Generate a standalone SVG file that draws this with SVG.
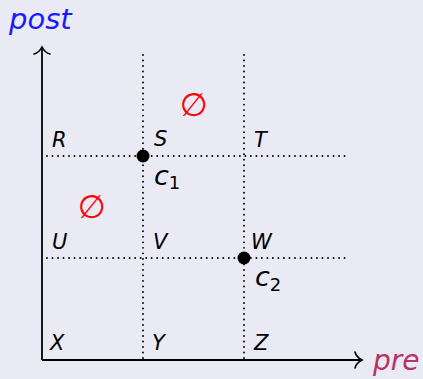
<svg xmlns="http://www.w3.org/2000/svg" width="423" height="379" viewBox="0 0 423 379">
<defs>
<marker id="to" viewBox="-10 -10 12 20" refX="0" refY="0" markerWidth="12" markerHeight="20" markerUnits="userSpaceOnUse" orient="auto">
<path d="M -7,-8 C -6,-4 -2,-1 0,0 C -2,1 -6,4 -7,8" fill="none" stroke="#000" stroke-width="1.6" stroke-linecap="round"/>
</marker>
<style>
.lbl{font-family:"DejaVu Sans",sans-serif;font-style:italic;font-size:21px;fill:#000}
.c{font-family:"DejaVu Sans",sans-serif;font-style:italic;font-size:27px;fill:#000}
.sub{font-family:"DejaVu Sans",sans-serif;font-size:18px;fill:#000}
.empty{font-family:"DejaVu Sans",sans-serif;font-size:32px;fill:#ff0000}
.grid{stroke:#000;stroke-width:1.9;stroke-dasharray:0.01 5.5;stroke-linecap:round;fill:none}
.axis{stroke:#000;stroke-width:1.8;fill:none}
</style>
</defs>
<rect width="423" height="379" fill="#eaeaf4"/>
<g id="connectors">
<line class="grid" x1="143" y1="55" x2="143" y2="360"/>
<line class="grid" x1="244" y1="55" x2="244" y2="360"/>
<line class="grid" x1="47" y1="156" x2="347" y2="156"/>
<line class="grid" x1="47" y1="258" x2="347" y2="258"/>
<line class="axis" x1="42" y1="360" x2="42" y2="47" marker-end="url(#to)"/>
<line class="axis" x1="42" y1="360" x2="362" y2="360" marker-end="url(#to)"/>
</g>
<g id="axis-post"><text x="9" y="29" font-family="DejaVu Sans, sans-serif" font-style="italic" font-size="29" fill="#1a1aff">post</text></g>
<g id="axis-pre"><text x="373" y="370" font-family="DejaVu Sans, sans-serif" font-style="italic" font-size="28" fill="#b8336a">pre</text></g>
<g id="R"><text class="lbl" x="52" y="147">R</text></g>
<g id="S"><text class="lbl" x="154" y="146">S</text></g>
<g id="T"><text class="lbl" x="254" y="147">T</text></g>
<g id="U"><text class="lbl" x="52" y="249">U</text></g>
<g id="V"><text class="lbl" x="153" y="249">V</text></g>
<g id="W"><text class="lbl" x="251" y="249">W</text></g>
<g id="X"><text class="lbl" x="50" y="350">X</text></g>
<g id="Y"><text class="lbl" x="152" y="350">Y</text></g>
<g id="Z"><text class="lbl" x="254" y="350">Z</text></g>
<g id="c1"><circle cx="143" cy="156" r="6.5" fill="#000"/><text class="c" x="154" y="185">c<tspan class="sub" font-style="normal" dy="4">1</tspan></text></g>
<g id="c2"><circle cx="244" cy="258" r="6.5" fill="#000"/><text class="c" x="255" y="286">c<tspan class="sub" font-style="normal" dy="5">2</tspan></text></g>
<g id="empty1"><text class="empty" x="194" y="116" text-anchor="middle">∅</text></g>
<g id="empty2"><text class="empty" x="92" y="218" text-anchor="middle">∅</text></g>
</svg>
